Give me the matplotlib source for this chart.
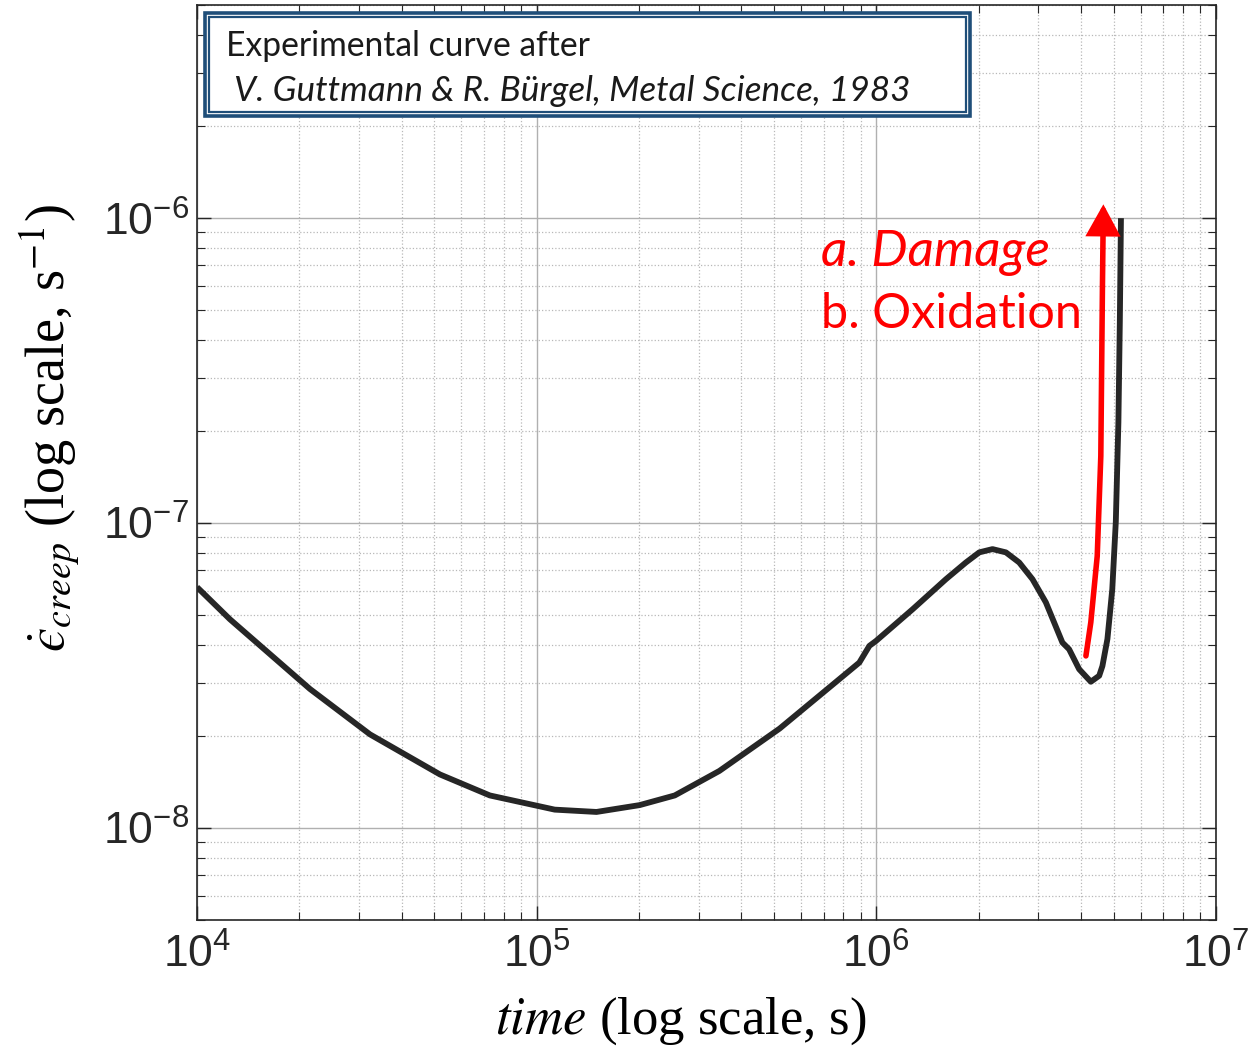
import numpy as np
import matplotlib
matplotlib.use("Agg")
import matplotlib.pyplot as plt
from matplotlib.patches import Rectangle, FancyArrowPatch
from matplotlib.path import Path
from matplotlib.ticker import LogLocator, NullFormatter

plt.rcParams['mathtext.fontset'] = 'stix'
plt.rcParams['mathtext.rm'] = 'Liberation Sans'
plt.rcParams['mathtext.it'] = 'Liberation Sans:italic'
plt.rcParams['mathtext.bf'] = 'Liberation Sans:bold'

# Courbe de fluage
time_s = [1.0e4, 1.25e4, 2.15e4, 3.23e4, 5.19e4, 7.28e4, 1.13e5, 1.50e5, 2.01e5,
          2.55e5, 3.45e5, 5.19e5, 8.91e5, 9.54e5, 9.98e5, 1.279e6, 1.603e6,
          1.835e6, 2.009e6, 2.198e6, 2.407e6, 2.634e6, 2.882e6, 3.155e6, 3.53e6,
          3.694e6, 3.955e6, 4.28e6, 4.53e6, 4.63e6, 4.79e6, 4.95e6, 5.07e6, 5.16e6,
          5.21e6, 5.25e6]
creep_rate = [6.17e-8, 4.84e-8, 2.86e-8, 2.03e-8, 1.50e-8, 1.28e-8, 1.15e-8, 1.13e-8,
              1.19e-8, 1.28e-8, 1.54e-8, 2.12e-8, 3.49e-8, 3.96e-8, 4.11e-8,
              5.22e-8, 6.55e-8, 7.43e-8, 8.02e-8, 8.22e-8, 8.02e-8, 7.43e-8, 6.55e-8,
              5.50e-8, 4.06e-8, 3.86e-8, 3.32e-8, 3.02e-8, 3.16e-8, 3.40e-8, 4.17e-8,
              6.07e-8, 1.01e-7, 2.14e-7, 4.56e-7, 1.0e-6]

# Flèche rouge (endommagement / oxydation)
arrow_t = [4.14e6, 4.28e6, 4.47e6, 4.58e6, 4.63e6, 4.66e6]
arrow_e = [3.67e-8, 4.73e-8, 7.80e-8, 1.66e-7, 5.85e-7, 1.11e-6]

fig = plt.figure(figsize=(12.54, 10.59), dpi=100)
ax = fig.add_axes([0.1571, 0.1313, 0.8126, 0.864])

ax.plot(time_s, creep_rate, color='#262626', lw=4.2, solid_capstyle='butt',
        solid_joinstyle='round', zorder=3)

path = Path(list(zip(arrow_t, arrow_e)))
arr = FancyArrowPatch(path=path, arrowstyle='-|>,head_length=1.0,head_width=0.55',
                      mutation_scale=17, color='red', lw=4.0, zorder=4,
                      transform=ax.transData, joinstyle='miter')
ax.add_patch(arr)

ax.set_xscale('log')
ax.set_yscale('log')
ax.set_xlim(1e4, 1e7)
ax.set_ylim(5e-9, 5e-6)

ax.xaxis.set_minor_locator(LogLocator(base=10, subs=np.arange(2, 10), numticks=20))
ax.yaxis.set_minor_locator(LogLocator(base=10, subs=np.arange(2, 10), numticks=20))
ax.xaxis.set_minor_formatter(NullFormatter())
ax.yaxis.set_minor_formatter(NullFormatter())
ax.set_yticks([1e-8, 1e-7, 1e-6])
ax.set_yticklabels(['$10^{-8}$', '$10^{-7}$', '$10^{-6}$'])
ax.set_xticks([1e4, 1e5, 1e6, 1e7])
ax.set_xticklabels(['$10^{4}$', '$10^{5}$', '$10^{6}$', '$10^{7}$'])

ax.grid(True, which='major', color='#b0b0b0', lw=1.0, ls='-')
ax.grid(True, which='minor', color='#b8b8b8', lw=0.9, ls=':')
ax.set_axisbelow(True)

ax.tick_params(which='both', direction='in', top=True, right=True, color='#262626')
ax.tick_params(which='major', length=10, width=1.0, labelsize=32, labelcolor='#262626')
ax.tick_params(which='minor', length=6, width=0.8)
ax.tick_params(axis='x', pad=10)
ax.tick_params(axis='y', pad=6)
for lab in ax.get_xticklabels() + ax.get_yticklabels():
    lab.set_family('Liberation Sans')
    lab.set_math_fontfamily('custom')
for sp in ax.spines.values():
    sp.set_color('#262626')
    sp.set_linewidth(1.2)

ax.set_xlabel(r'$\mathit{time}$ (log scale, s)', fontsize=38, family='Liberation Serif')
ax.xaxis.label.set_math_fontfamily('stix')
ax.xaxis.set_label_coords(0.475, -0.083)
ax.set_ylabel(r'$\dot{ϵ}_{\mathit{creep}}$ (log scale, s$^{-1}$)', fontsize=39,
              family='Liberation Serif')
ax.yaxis.label.set_math_fontfamily('stix')
ax.yaxis.set_label_coords(-0.112, 0.538)

# Cadre de la source
bx = [(205, 13, 970, 116), (209, 17, 966, 112)]
for i, (x0, y0, x1, y1) in enumerate(bx):
    fx0, fx1 = x0 / 1254, x1 / 1254
    fy0, fy1 = 1 - y1 / 1059, 1 - y0 / 1059
    r = Rectangle((fx0, fy0), fx1 - fx0, fy1 - fy0, transform=fig.transFigure,
                  fill=(i == 0), facecolor='white', edgecolor='#1f4e79',
                  lw=2.6 if i == 0 else 1.6, zorder=5)
    fig.add_artist(r)
fig.text(226 / 1254, 1 - 46 / 1059, 'Experimental curve after', fontsize=24.2,
         family='Lato', va='center', ha='left', color='#1a1a1a', zorder=6)
fig.text(234 / 1254, 1 - 91 / 1059, 'V. Guttmann & R. Bürgel, Metal Science, 1983',
         fontsize=25.3, family='Lato', style='italic', va='center', ha='left',
         color='#1a1a1a', zorder=6)

fig.text(821 / 1254, 1 - 253 / 1059, 'a. Damage', fontsize=37, family='Lato',
         style='italic', color='red', va='center', ha='left')
fig.text(821 / 1254, 1 - 314 / 1059, 'b. Oxidation', fontsize=35, family='Lato',
         color='red', va='center', ha='left')

fig.savefig('out.png', dpi=100)
